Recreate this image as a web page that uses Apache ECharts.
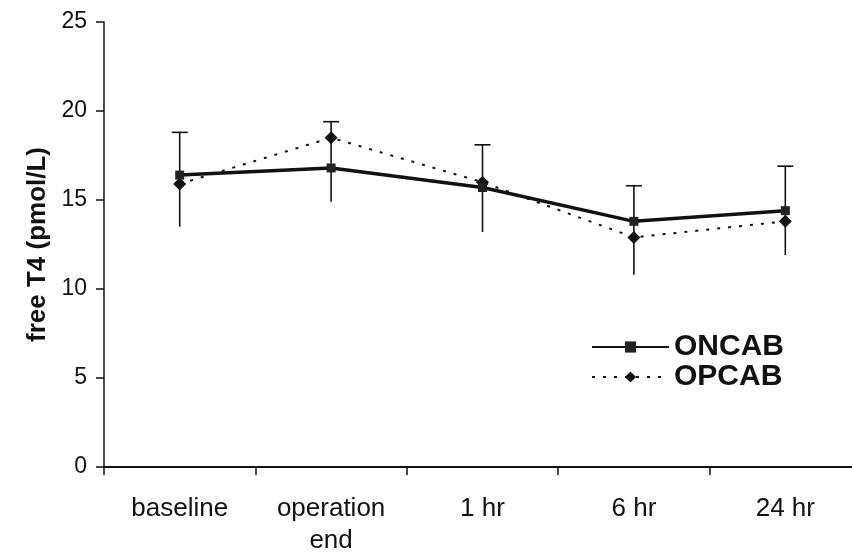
<!DOCTYPE html>
<html>
<head>
<meta charset="utf-8">
<script src="https://cdn.jsdelivr.net/npm/echarts@6/dist/echarts.min.js"></script>
<style>
  html, body { margin: 0; padding: 0; background: #fff; }
  #chart { width: 852px; height: 554px; }
</style>
</head>
<body>
<div id="chart"></div>
<script>
// Time points of measurement
var categories = ['baseline', 'operation\nend', '1 hr', '6 hr', '24 hr'];
// Mean free T4 (pmol/L)
var oncab = [16.4, 16.8, 15.7, 13.8, 14.4];
var opcab = [15.9, 18.5, 16.0, 12.9, 13.8];
// Whisker ends of the standard deviation bars at each time point
var whiskerHigh = [18.8, 19.4, 18.1, 15.8, 16.9];
var whiskerLow = [13.5, 14.9, 13.2, 10.8, 11.9];
// Y axis range
var yMin = 0, yMax = 25, yStep = 5;

var font = 'Liberation Sans, Arial, sans-serif';
var chart = echarts.init(document.getElementById('chart'), null, { renderer: 'canvas' });

var whiskerData = categories.map(function (c, i) {
  return [i, whiskerLow[i], whiskerHigh[i]];
});

chart.setOption({
  backgroundColor: '#fff',
  animation: false,
  grid: {
    left: 104, top: 22, width: 757, height: 445,
    containLabel: false, outerBoundsMode: 'none'
  },
  legend: {
    orient: 'vertical',
    left: 586,
    top: 327,
    itemWidth: 77,
    itemHeight: 14,
    itemGap: 0,
    textStyle: {
      fontFamily: font, fontSize: 30, fontWeight: 'bold', color: '#111',
      lineHeight: 27
    },
    data: ['ONCAB', 'OPCAB']
  },
  xAxis: {
    type: 'category',
    data: categories,
    boundaryGap: true,
    axisLine: { show: true, lineStyle: { color: '#111', width: 2 } },
    axisTick: { show: true, length: 8, lineStyle: { color: '#111', width: 1.5 } },
    axisLabel: {
      fontFamily: font, fontSize: 26, color: '#111', margin: 26,
      lineHeight: 32, interval: 0
    },
    splitLine: { show: false }
  },
  yAxis: {
    type: 'value',
    min: yMin, max: yMax, interval: yStep,
    name: 'free T4 (pmol/L)',
    nameLocation: 'middle',
    nameGap: 51,
    nameRotate: 90,
    nameTextStyle: { fontFamily: font, fontSize: 26, fontWeight: 'bold', color: '#111' },
    axisLine: { show: true, lineStyle: { color: '#111', width: 1.5 } },
    axisTick: { show: true, length: 8, lineStyle: { color: '#111', width: 1.5 } },
    axisLabel: { fontFamily: font, fontSize: 23, color: '#111', margin: 17 },
    splitLine: { show: false }
  },
  series: [
    {
      name: 'whiskers',
      type: 'custom',
      z: 1,
      silent: true,
      data: whiskerData,
      renderItem: function (params, api) {
        var x = api.value(0);
        var lo = api.coord([x, api.value(1)]);
        var hi = api.coord([x, api.value(2)]);
        var cap = 8;
        var style = { stroke: '#111', lineWidth: 1.6 };
        return {
          type: 'group',
          children: [
            { type: 'line', shape: { x1: hi[0], y1: hi[1], x2: lo[0], y2: lo[1] }, style: style },
            { type: 'line', shape: { x1: hi[0] - cap, y1: hi[1], x2: hi[0] + cap, y2: hi[1] }, style: style }
          ]
        };
      }
    },
    {
      name: 'OPCAB',
      type: 'line',
      z: 3,
      data: opcab,
      symbol: 'diamond',
      symbolSize: 13,
      itemStyle: { color: '#111' },
      lineStyle: { color: '#111', width: 2, type: [3, 8] }
    },
    {
      name: 'ONCAB',
      type: 'line',
      z: 4,
      data: oncab,
      symbol: 'rect',
      symbolSize: 9,
      itemStyle: { color: '#222' },
      lineStyle: { color: '#111', width: 3.5 }
    }
  ]
});
</script>
</body>
</html>
